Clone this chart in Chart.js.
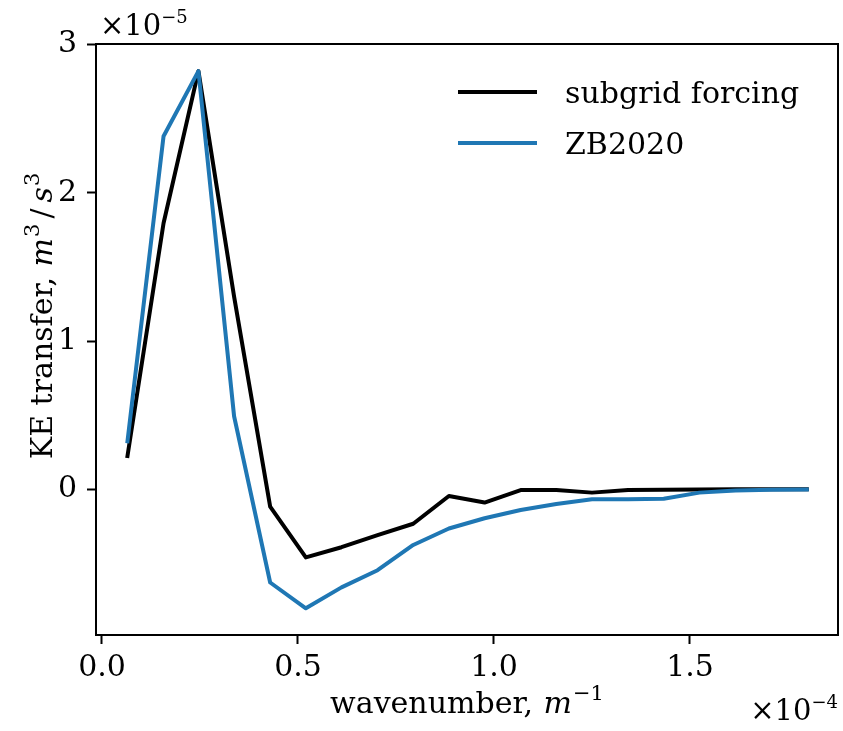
<!DOCTYPE html>
<html>
<head>
<meta charset="utf-8">
<script src="https://cdn.jsdelivr.net/npm/chart.js@4/dist/chart.umd.min.js"></script>
<style>
  html, body { margin: 0; padding: 0; background: #fff; }
  canvas { display: block; }
</style>
</head>
<body>
<canvas id="chart" width="843" height="731"></canvas>
<script>
// Wavenumber, in units of 1e-4 m^-1
const wavenumber = [0.065, 0.157, 0.246, 0.337, 0.429, 0.520, 0.611, 0.703, 0.794, 0.885,
                    0.976, 1.068, 1.159, 1.250, 1.342, 1.433, 1.524, 1.616, 1.707, 1.798];
// KE transfer spectra, in units of 1e-5 m^3/s^3
const subgridForcing = [0.225, 1.794, 2.820, 1.300, -0.116, -0.459, -0.390, -0.309, -0.232, -0.045,
                        -0.089, -0.005, -0.005, -0.022, -0.005, -0.002, -0.001, 0.000, 0.000, 0.000];
const zb2020 = [0.325, 2.381, 2.820, 0.493, -0.628, -0.802, -0.661, -0.545, -0.375, -0.264,
                -0.195, -0.139, -0.099, -0.067, -0.066, -0.063, -0.022, -0.008, -0.003, -0.001];
const seriesNames = ['subgrid forcing', 'ZB2020'];
const seriesColors = ['#000000', '#1f77b4'];
const xTicks = [0.0, 0.5, 1.0, 1.5];
const yTicks = [0, 1, 2, 3];
const xExponent = '\u22124';
const yExponent = '\u22125';

const FONT = '"DejaVu Serif", "Liberation Serif", serif';
const TICK_SIZE = 30;
const LABEL_SIZE = 30;
const LEGEND_SIZE = 30;
const MULT_SIZE = 29;

function toPoints(xs, ys) {
  return xs.map((x, i) => ({ x: x, y: ys[i] }));
}

// Draws a run of text pieces (roman / italic / superscript) on one baseline.
function drawRich(ctx, parts, x, y, align, size, supScale) {
  const ss = supScale || 0.7;
  const fontFor = p => (p.italic ? 'italic ' : '') + (p.sup ? Math.round(size * ss) : size) + 'px ' + FONT;
  let total = 0;
  parts.forEach(p => { ctx.font = fontFor(p); p.w = ctx.measureText(p.text).width + (p.gap || 0); total += p.w; });
  let cx = align === 'center' ? x - total / 2 : align === 'right' ? x - total : x;
  ctx.textAlign = 'left';
  ctx.textBaseline = 'alphabetic';
  parts.forEach(p => {
    ctx.font = fontFor(p);
    ctx.fillText(p.text, cx + (p.gap || 0) / 2, p.sup ? y - size * 0.42 : y);
    cx += p.w;
  });
}

const decorations = {
  id: 'decorations',
  afterDraw(chart) {
    const ctx = chart.ctx;
    const a = chart.chartArea;
    ctx.save();
    ctx.fillStyle = '#000';
    ctx.strokeStyle = '#000';

    // top and right frame lines
    ctx.lineWidth = 2;
    ctx.beginPath();
    ctx.moveTo(a.left, a.top);
    ctx.lineTo(a.right, a.top);
    ctx.lineTo(a.right, a.bottom);
    ctx.stroke();

    // axis labels
    drawRich(ctx, [
      { text: 'wavenumber, ' },
      { text: 'm', italic: true, gap: 2 },
      { text: '\u22121', sup: true }
    ], (a.left + a.right) / 2, 713, 'center', LABEL_SIZE);

    ctx.save();
    ctx.translate(52, 316);
    ctx.rotate(-Math.PI / 2);
    drawRich(ctx, [
      { text: 'KE transfer, ' },
      { text: 'm', italic: true, gap: 2 },
      { text: '3', sup: true },
      { text: '/', gap: 10 },
      { text: 's', italic: true, gap: 2 },
      { text: '3', sup: true }
    ], 0, 0, 'center', LABEL_SIZE);
    ctx.restore();

    // scale multipliers
    drawRich(ctx, [{ text: '\u00d710' }, { text: yExponent, sup: true }], 100, 35, 'left', MULT_SIZE, 0.62);
    drawRich(ctx, [{ text: '\u00d710' }, { text: xExponent, sup: true }], 838, 720, 'right', MULT_SIZE, 0.62);

    // legend
    const rows = [92, 143];
    chart.data.datasets.forEach((ds, i) => {
      const y = rows[i];
      ctx.strokeStyle = ds.borderColor;
      ctx.lineWidth = 4;
      ctx.lineCap = 'butt';
      ctx.beginPath();
      ctx.moveTo(458, y);
      ctx.lineTo(537, y);
      ctx.stroke();
      ctx.fillStyle = '#000';
      ctx.font = LEGEND_SIZE + 'px ' + FONT;
      ctx.textAlign = 'left';
      ctx.textBaseline = 'alphabetic';
      ctx.fillText(ds.label, 565, y + 11);
    });
    ctx.restore();
  }
};

const axisCommon = {
  type: 'linear',
  grid: {
    display: true,
    drawOnChartArea: false,
    drawTicks: true,
    tickLength: 9,
    tickWidth: 2,
    tickColor: '#000'
  },
  border: { display: true, color: '#000', width: 2 },
  ticks: { color: '#000', font: { family: FONT, size: TICK_SIZE } }
};

new Chart(document.getElementById('chart'), {
  type: 'line',
  data: {
    datasets: [
      {
        label: seriesNames[0],
        data: toPoints(wavenumber, subgridForcing),
        borderColor: seriesColors[0],
        borderWidth: 4,
        pointRadius: 0,
        tension: 0,
        fill: false,
        borderJoinStyle: 'round',
        borderCapStyle: 'square',
        order: 1
      },
      {
        label: seriesNames[1],
        data: toPoints(wavenumber, zb2020),
        borderColor: seriesColors[1],
        borderWidth: 4,
        pointRadius: 0,
        tension: 0,
        fill: false,
        borderJoinStyle: 'round',
        borderCapStyle: 'square',
        order: 0
      }
    ]
  },
  options: {
    responsive: false,
    animation: false,
    devicePixelRatio: 1,
    layout: { padding: { top: 44, right: 5, left: 0, bottom: 0 } },
    plugins: {
      legend: { display: false },
      tooltip: { enabled: false }
    },
    scales: {
      x: Object.assign({}, axisCommon, {
        min: -0.0153,
        max: 1.8776,
        ticks: Object.assign({}, axisCommon.ticks, {
          padding: 6,
          maxRotation: 0,
          callback: v => Number(v).toFixed(1)
        }),
        afterBuildTicks: s => { s.ticks = xTicks.map(v => ({ value: v })); },
        afterFit: s => { s.height = 96; }
      }),
      y: Object.assign({}, axisCommon, {
        min: -0.982,
        max: 3.003,
        ticks: Object.assign({}, axisCommon.ticks, {
          padding: 10,
          callback: v => String(Math.round(v))
        }),
        afterBuildTicks: s => { s.ticks = yTicks.map(v => ({ value: v })); },
        afterFit: s => { s.width = 96; }
      })
    }
  },
  plugins: [decorations]
});
</script>
</body>
</html>
